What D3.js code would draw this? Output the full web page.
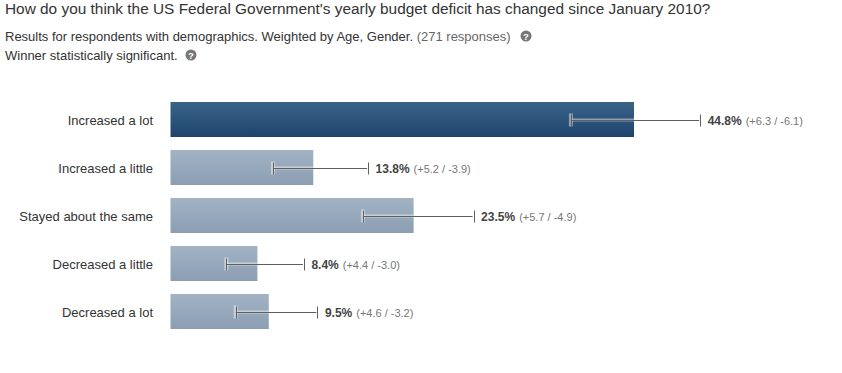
<!DOCTYPE html>
<html>
<head>
<meta charset="utf-8">
<script src="https://cdn.jsdelivr.net/npm/d3@7"></script>
<style>
  html, body { margin: 0; background: #fff; }
  svg { display: block; font-family: "Liberation Sans", Arial, sans-serif; }
</style>
</head>
<body>
<svg id="chart" width="842" height="373"></svg>
<script>
const categories = ["Increased a lot", "Increased a little", "Stayed about the same", "Decreased a little", "Decreased a lot"];
const values = [44.8, 13.8, 23.5, 8.4, 9.5];
const errPlus = [6.3, 5.2, 5.7, 4.4, 4.6];
const errMinus = [6.1, 3.9, 4.9, 3.0, 3.2];
const winner = "Increased a lot";

const rows = categories.map((c, i) => ({ cat: c, value: values[i], plus: errPlus[i], minus: errMinus[i] }));

const svg = d3.select("#chart");
const x = d3.scaleLinear().domain([0, 50]).range([170.5, 687.8]);
const y = d3.scaleBand().domain(categories).range([102, 329]).paddingInner(13 / 48);

const defs = svg.append("defs");
function gradient(id, top, bottom) {
  const g = defs.append("linearGradient").attr("id", id).attr("x1", 0).attr("y1", 0).attr("x2", 0).attr("y2", 1);
  g.append("stop").attr("offset", "0%").attr("stop-color", top);
  g.append("stop").attr("offset", "100%").attr("stop-color", bottom);
}
gradient("barWinner", "#3b6386", "#1e446e");
gradient("barOther", "#a2b3c4", "#8b9eb2");

// header text
svg.append("text").attr("x", 5).attr("y", 14).attr("font-size", 15.4).attr("fill", "#333")
  .text("How do you think the US Federal Government's yearly budget deficit has changed since January 2010?");

const sub = svg.append("text").attr("x", 5).attr("y", 41).attr("font-size", 13).attr("fill", "#333");
sub.append("tspan").text("Results for respondents with demographics. Weighted by Age, Gender. ");
sub.append("tspan").attr("fill", "#666").text("(271 responses)");

svg.append("text").attr("x", 5).attr("y", 60).attr("font-size", 13).attr("fill", "#333")
  .text("Winner statistically significant.");

function helpIcon(cx, cy) {
  const g = svg.append("g").attr("transform", `translate(${cx},${cy})`);
  g.append("circle").attr("r", 5.5).attr("fill", "#777");
  g.append("text").attr("y", 3.5).attr("text-anchor", "middle").attr("font-size", 9.5)
    .attr("font-weight", "bold").attr("fill", "#fff").text("?");
}
helpIcon(526, 36);
helpIcon(191, 55);

// bars
svg.append("g").selectAll("rect").data(rows).join("rect")
  .attr("x", x(0))
  .attr("y", d => y(d.cat))
  .attr("width", d => x(d.value) - x(0))
  .attr("height", y.bandwidth())
  .attr("fill", d => d.cat === winner ? "url(#barWinner)" : "url(#barOther)");

// category labels
svg.append("g").selectAll("text").data(rows).join("text")
  .attr("x", 153)
  .attr("y", d => y(d.cat) + y.bandwidth() / 2 + 5)
  .attr("text-anchor", "end")
  .attr("font-size", 13)
  .attr("fill", "#333")
  .text(d => d.cat);

// error bars: pale casing inside the bar, dark line on top
const errs = svg.append("g").selectAll("g").data(rows).join("g")
  .attr("transform", d => `translate(0,${Math.round(y(d.cat) + y.bandwidth() / 2) + 0.5})`);

errs.append("rect")
  .attr("x", d => x(d.value - d.minus) - 2)
  .attr("y", -7)
  .attr("width", 4)
  .attr("height", 13)
  .attr("fill", "#fff")
  .attr("opacity", 0.45);
errs.append("rect")
  .attr("x", d => x(d.value - d.minus))
  .attr("y", -2)
  .attr("width", d => x(d.value) - x(d.value - d.minus))
  .attr("height", 3)
  .attr("fill", "#fff")
  .attr("opacity", 0.45);
errs.append("line")
  .attr("x1", d => x(d.value - d.minus))
  .attr("x2", d => x(d.value + d.plus))
  .attr("stroke", "#5f5f5f");
errs.append("line")
  .attr("x1", d => Math.round(x(d.value - d.minus)) + 0.5)
  .attr("x2", d => Math.round(x(d.value - d.minus)) + 0.5)
  .attr("y1", -6).attr("y2", 6)
  .attr("stroke", "#5f5f5f");
errs.append("line")
  .attr("x1", d => Math.round(x(d.value + d.plus)) + 1.5)
  .attr("x2", d => Math.round(x(d.value + d.plus)) + 1.5)
  .attr("y1", -6).attr("y2", 6)
  .attr("stroke", "#5f5f5f");

// value labels
const labels = errs.append("text")
  .attr("x", d => x(d.value + d.plus) + 8.5)
  .attr("y", 4.5);
labels.append("tspan")
  .attr("font-size", 12).attr("font-weight", "bold").attr("fill", "#444")
  .text(d => `${d.value.toFixed(1)}%`);
labels.append("tspan")
  .attr("dx", 4).attr("font-size", 11).attr("fill", "#777")
  .text(d => `(+${d.plus.toFixed(1)} / -${d.minus.toFixed(1)})`);
</script>
</body>
</html>
